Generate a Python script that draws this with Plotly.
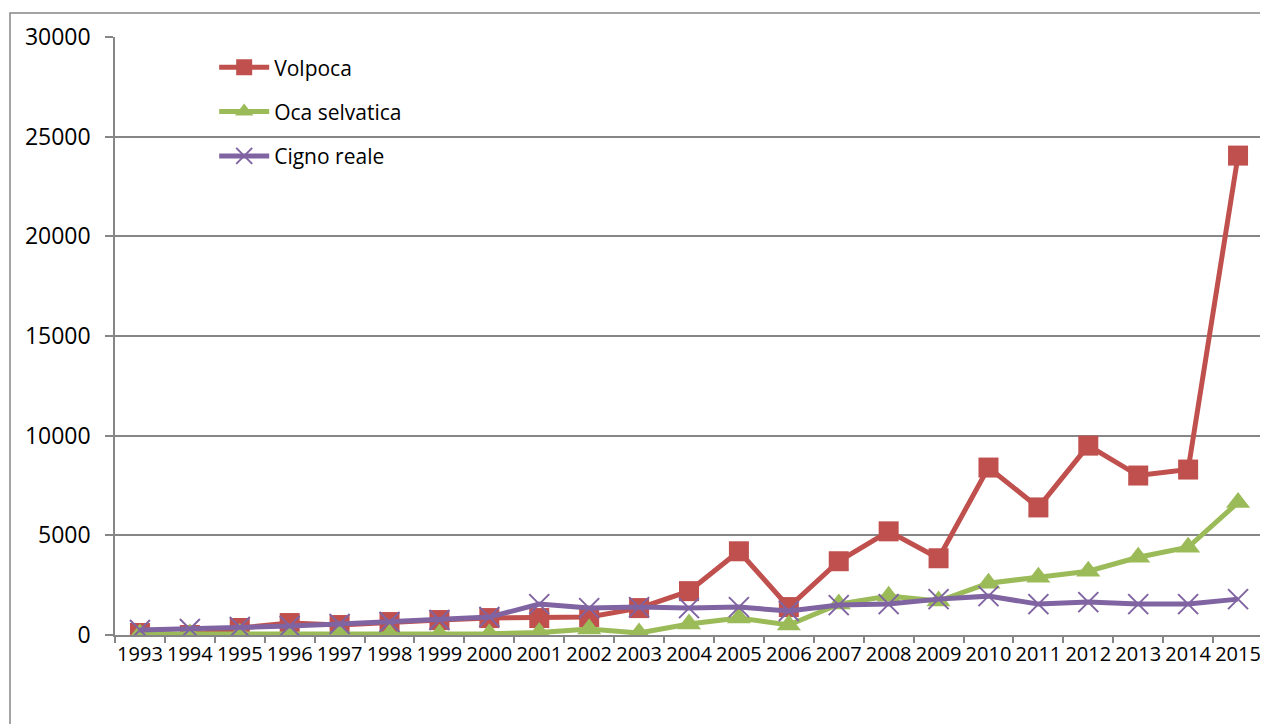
import plotly.graph_objects as go

years = [str(y) for y in range(1993, 2016)]
volpoca = [100, 0, 350, 600, 500, 650, 750, 850, 850, 900, 1350, 2200, 4200, 1400,
           3700, 5200, 3850, 8400, 6400, 9500, 8000, 8300, 24050]
oca_selvatica = [50, 50, 80, 50, 50, 50, 50, 60, 120, 300, 100, 550, 850, 500,
                 1550, 1950, 1700, 2600, 2900, 3200, 3900, 4400, 6650]
cigno_reale = [250, 300, 400, 450, 550, 650, 750, 900, 1550, 1350, 1400, 1350, 1400, 1200,
               1500, 1550, 1800, 1950, 1550, 1650, 1550, 1550, 1800]
y_ticks = [0, 5000, 10000, 15000, 20000, 25000, 30000]

FONT = "Open Sans"
fig = go.Figure()
fig.add_trace(go.Scatter(x=years, y=volpoca, name="Volpoca", mode="lines+markers",
                         line=dict(color="#C0504D", width=5),
                         marker=dict(symbol="square", size=20, color="#C0504D")))
fig.add_trace(go.Scatter(x=years, y=oca_selvatica, name="Oca selvatica", mode="lines+markers",
                         line=dict(color="#9BBB59", width=5),
                         marker=dict(symbol="triangle-up", size=21, color="#9BBB59")))
fig.add_trace(go.Scatter(x=years, y=cigno_reale, name="Cigno reale", mode="lines+markers",
                         line=dict(color="#8064A2", width=5),
                         marker=dict(symbol="x-thin", size=20, color="#8064A2",
                                     line=dict(color="#8064A2", width=2))))
for i, tr in enumerate(fig.data):
    tr.legendgroup = f"g{i}"

# page body adds an 8px offset, so the figure is 8px smaller and margins shifted
fig.update_layout(
    width=1260, height=716,
    margin=dict(l=107, r=5, t=29, b=89),
    paper_bgcolor="white", plot_bgcolor="white",
    font=dict(family=FONT, size=22, color="#000000"),
    showlegend=True,
    legend=dict(x=0.0864, y=0.983, xanchor="left", yanchor="top",
                bgcolor="rgba(0,0,0,0)", font=dict(family=FONT, size=21),
                tracegroupgap=14, itemwidth=50),
    xaxis=dict(type="category", tickson="boundaries", ticks="outside", ticklen=6,
               tickcolor="#868686", tickwidth=1.5, showline=True, linecolor="#868686",
               linewidth=1.5, showgrid=False, range=[-0.5, 22.5], automargin=False,
               tickfont=dict(family=FONT, size=20), tickangle=0),
    yaxis=dict(range=[0, 30000], tickvals=y_ticks, ticktext=[str(v) for v in y_ticks],
               ticks="outside", ticklen=8, tickcolor="#868686", tickwidth=1.5,
               showline=True, linecolor="#868686", linewidth=1.5, automargin=False,
               showgrid=True, gridcolor="#868686", gridwidth=1.5, zeroline=False,
               tickfont=dict(family=FONT, size=23), ticklabelstandoff=10),
)

# outer chart border
fig.add_shape(type="rect", xref="paper", yref="paper",
              x0=-105 / 1148, x1=1.02, y0=-0.3, y1=1 + 24 / 598,
              line=dict(color="#868686", width=1.5), fillcolor="rgba(0,0,0,0)", layer="below")

fig.write_html("out.html")
